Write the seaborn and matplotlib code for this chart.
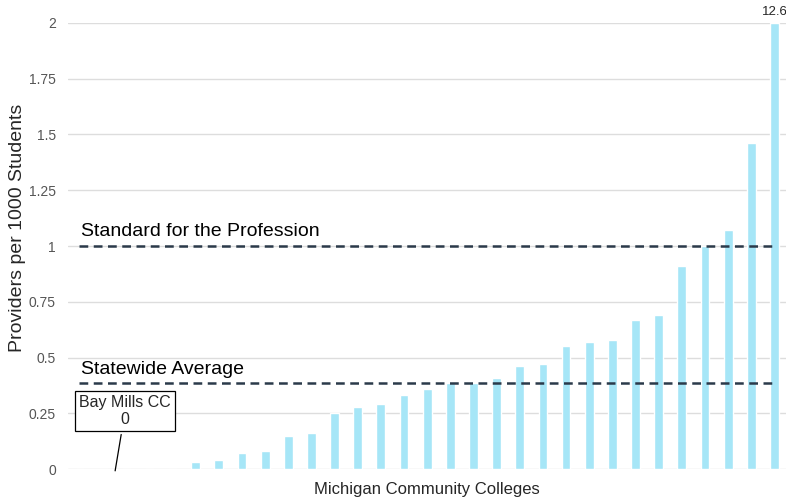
import numpy as np
import pandas as pd
import matplotlib.pyplot as plt
import seaborn as sns

# Providers per 1000 students, sorted (last college is off the scale)
rates = [0, 0, 0, 0, 0,
         0.03, 0.04, 0.07, 0.08, 0.15, 0.16, 0.25, 0.28, 0.29, 0.33,
         0.36, 0.385, 0.385, 0.41, 0.46, 0.47, 0.55, 0.57, 0.58, 0.67,
         0.69, 0.91, 1.0, 1.07, 1.46, 12.6]
colleges = [f"CC{i + 1}" for i in range(len(rates))]
standard = 1.0
state_avg = 0.385
y_max = 2.0

df = pd.DataFrame({"college": colleges, "rate": rates})
df["shown"] = df["rate"].clip(upper=y_max)

sns.set_style("white")
plt.rcParams['font.family'] = ['Liberation Sans', 'DejaVu Sans']

fig = plt.figure(figsize=(7.86, 4.98), dpi=100)
ax = fig.add_axes([0.087, 0.058, 0.913, 0.896])

sns.barplot(data=df, x="college", y="shown", color="#a6e6f7", saturation=1,
            width=0.38, ax=ax, zorder=2)

ax.set_ylim(0, y_max)
ax.set_yticks(np.arange(0, 2.01, 0.25))
ax.set_yticklabels(["0", "0.25", "0.5", "0.75", "1", "1.25", "1.5", "1.75", "2"])
ax.grid(axis="y", color="#dddddd", linewidth=1, zorder=0)
ax.set_axisbelow(True)
ax.tick_params(axis="y", colors="#555555", labelsize=10, length=0, pad=9)
ax.tick_params(axis="x", length=0)
ax.set_xticks([])
sns.despine(ax=ax, left=True, bottom=True)
ax.set_xlim(-0.5, len(rates) - 0.5)

ax.set_ylabel("Providers per 1000 Students", fontsize=14)
ax.yaxis.set_label_coords(-0.059, 0.54)
ax.set_xlabel("Michigan Community Colleges", fontsize=12, labelpad=9)

# reference lines
n = len(rates)
for yv, label in [(standard, "Standard for the Profession"), (state_avg, "Statewide Average")]:
    ax.plot([-0.05, n - 0.95], [yv, yv], ls=(0, (3.5, 2.2)), color="#2b3a4a", lw=1.8, zorder=3)
    ax.text(0.05, yv + 0.025, label, fontsize=14, color="black", va="bottom", ha="left")

# label for the clipped bar
ax.text(n - 1, y_max + 0.02, f"{rates[-1]:.1f}", ha="center", va="bottom", fontsize=9.5,
        clip_on=False)

# Bay Mills CC callout
ax.annotate("Bay Mills CC\n0", xy=(1.5, -0.02), xytext=(1.95, 0.26),
            ha="center", va="center", fontsize=11.5, annotation_clip=False,
            bbox=dict(boxstyle="square,pad=0.25", fc="white", ec="black", lw=0.9),
            arrowprops=dict(arrowstyle="-", color="black", lw=0.9))

fig.savefig("out.png", dpi=100)
